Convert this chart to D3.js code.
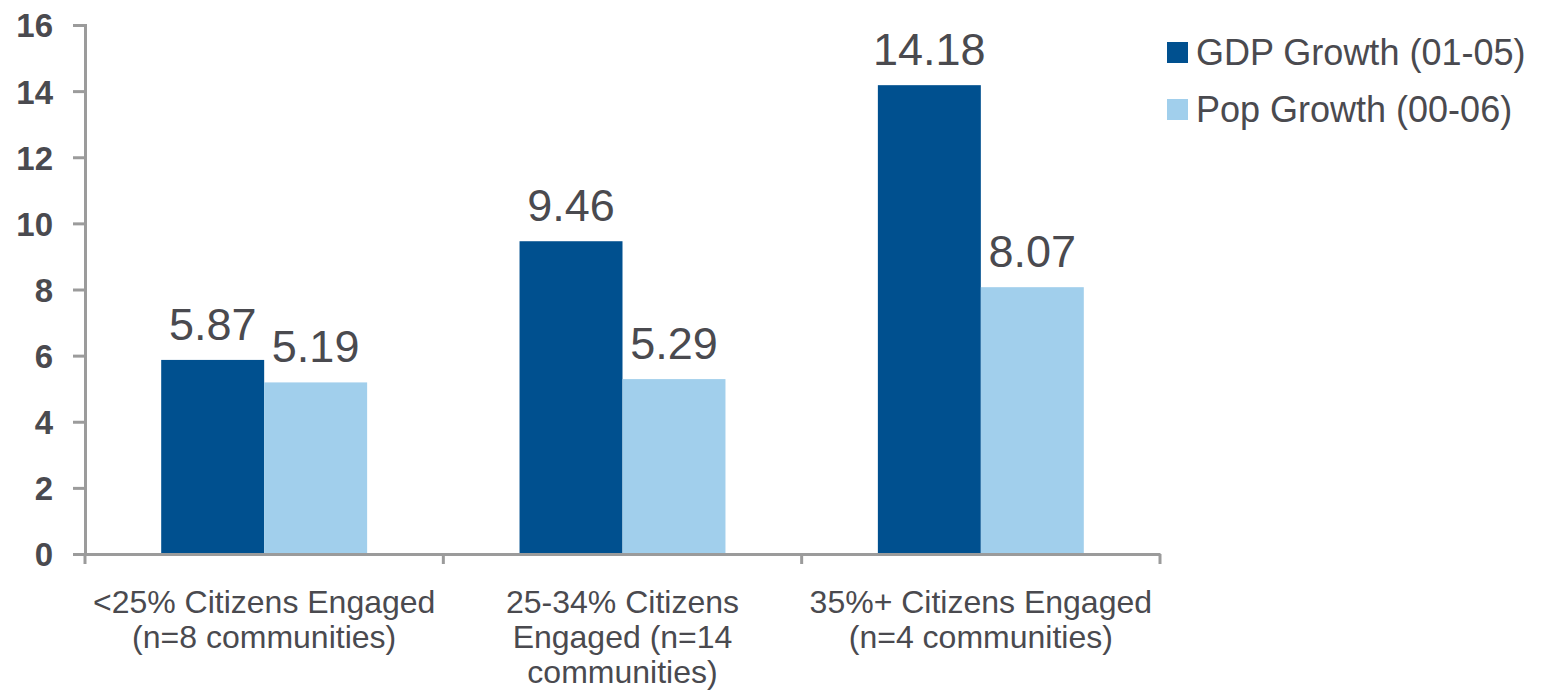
<!DOCTYPE html>
<html lang="en">
<head>
<meta charset="UTF-8">
<script src="https://d3js.org/d3.v7.min.js"></script>
<style>
  body { margin: 0; background: #fff; }
  svg text { font-family: "Liberation Sans", Arial, sans-serif; fill: #4a4a4f; }
</style>
</head>
<body>
<div id="chart"></div>
<script>
// data
const categories = [
  ["<25% Citizens Engaged", "(n=8 communities)"],
  ["25-34% Citizens", "Engaged (n=14", "communities)"],
  ["35%+ Citizens Engaged", "(n=4 communities)"]
];
const seriesNames = ["GDP Growth (01-05)", "Pop Growth (00-06)"];
const gdpGrowth = [5.87, 9.46, 14.18];
const popGrowth = [5.19, 5.29, 8.07];
const yTicks = [0, 2, 4, 6, 8, 10, 12, 14, 16];

const colors = ["#00508f", "#a1cfec"];
const width = 1551, height = 693;
const margin = {top: 25, left: 85, right: 391, bottom: 139};

const svg = d3.select("#chart").append("svg")
    .attr("width", width)
    .attr("height", height);

const x = d3.scaleBand()
    .domain(d3.range(categories.length))
    .range([margin.left, width - margin.right]);

const x1 = d3.scaleBand()
    .domain(d3.range(seriesNames.length))
    .range([0, x.bandwidth()])
    .paddingInner(0)
    .paddingOuter(0.74);

const y = d3.scaleLinear()
    .domain([0, 16])
    .range([height - margin.bottom, margin.top]);

const rows = [gdpGrowth, popGrowth];

// bars
const groups = svg.append("g")
  .selectAll("g")
  .data(categories.map((c, i) => i))
  .join("g")
    .attr("transform", i => `translate(${x(i)},0)`);

groups.selectAll("rect")
  .data(i => rows.map((r, s) => ({s, v: r[i]})))
  .join("rect")
    .attr("x", d => x1(d.s))
    .attr("y", d => y(d.v))
    .attr("width", x1.bandwidth())
    .attr("height", d => y(0) - y(d.v))
    .attr("fill", d => colors[d.s]);

groups.selectAll("text.val")
  .data(i => rows.map((r, s) => ({s, v: r[i]})))
  .join("text")
    .attr("class", "val")
    .attr("x", d => x1(d.s) + x1.bandwidth() / 2)
    .attr("y", d => y(d.v) - 20)
    .attr("text-anchor", "middle")
    .attr("font-size", 45)
    .text(d => d.v.toFixed(2));

// y axis
const yAxis = svg.append("g")
    .attr("transform", `translate(${margin.left},0)`)
    .call(d3.axisLeft(y).tickValues(yTicks).tickSize(12).tickPadding(20).tickSizeOuter(12));
yAxis.selectAll("text")
    .attr("font-size", 33)
    .attr("font-weight", "bold")
    .attr("dy", "0.36em");

// x axis
const xAxis = svg.append("g")
    .attr("transform", `translate(0,${y(0)})`)
    .call(d3.axisBottom(x).tickValues([]).tickSizeOuter(0));
xAxis.selectAll(".tick").remove();
xAxis.selectAll("line.div")
  .data(d3.range(categories.length + 1))
  .join("line")
    .attr("class", "div")
    .attr("x1", i => i < categories.length ? x(i) : x(i - 1) + x.bandwidth())
    .attr("x2", i => i < categories.length ? x(i) : x(i - 1) + x.bandwidth())
    .attr("y1", 0)
    .attr("y2", 10);

svg.selectAll(".domain, .tick line, line.div")
    .attr("stroke", "#9b9b9b")
    .attr("stroke-width", 3);
svg.selectAll(".tick text").attr("fill", "#4a4a4f");

// category labels
svg.append("g")
  .selectAll("text")
  .data(categories)
  .join("text")
    .attr("x", (d, i) => x(i) + x.bandwidth() / 2)
    .attr("y", 613)
    .attr("text-anchor", "middle")
    .attr("font-size", 32)
  .selectAll("tspan")
  .data(d => d)
  .join("tspan")
    .attr("x", function () { return this.parentNode.getAttribute("x"); })
    .attr("dy", (d, j) => j === 0 ? 0 : 35)
    .text(d => d);

// legend
const legend = svg.append("g")
  .selectAll("g")
  .data(seriesNames)
  .join("g")
    .attr("transform", (d, i) => `translate(1167,${42 + i * 57})`);
legend.append("rect")
    .attr("width", 21)
    .attr("height", 21)
    .attr("fill", (d, i) => colors[i]);
legend.append("text")
    .attr("x", 29)
    .attr("y", 23)
    .attr("font-size", 36)
    .text(d => d);
</script>
</body>
</html>
